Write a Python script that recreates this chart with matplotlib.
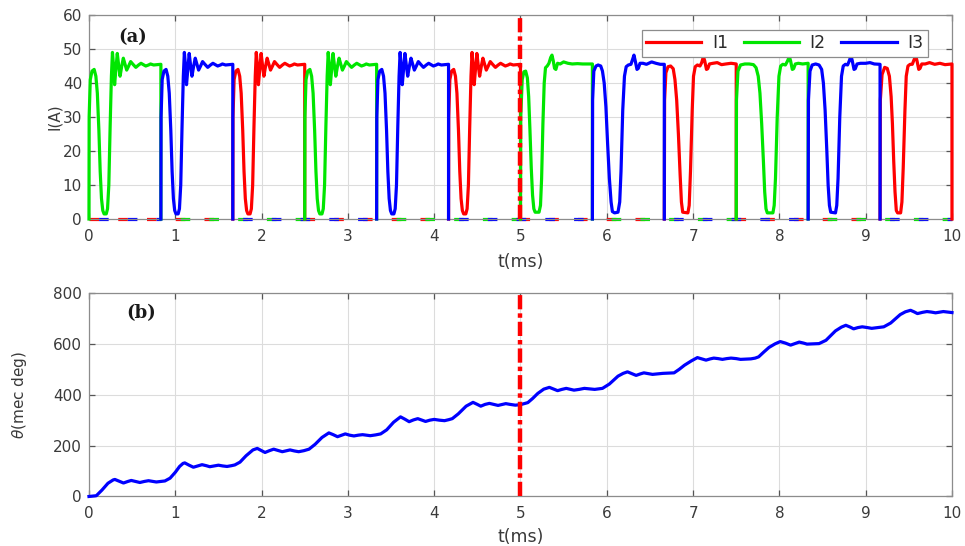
import numpy as np
import matplotlib
matplotlib.use("Agg")
import matplotlib.pyplot as plt

# ---------------------------------------------------------------------------
# Phase currents
# ---------------------------------------------------------------------------
# One conduction interval during 0-5 ms: time since turn-on (ms), current (A)
pulse_rel_t = [0.0, 0.002, 0.015, 0.035, 0.06, 0.08, 0.097, 0.115, 0.13, 0.145,
               0.16, 0.175, 0.2, 0.215, 0.23, 0.245, 0.26, 0.272, 0.285, 0.297,
               0.312, 0.328, 0.345, 0.36, 0.38, 0.398, 0.418, 0.437, 0.46, 0.483,
               0.51, 0.543, 0.575, 0.603, 0.63, 0.658, 0.69, 0.713, 0.75, 0.79,
               0.8333]
pulse_i = [0.0, 30.0, 41.0, 43.5, 44.0, 42.0, 37.0, 26.0, 14.0, 6.0,
           2.5, 1.5, 1.5, 3.0, 10.0, 27.0, 42.0, 49.0, 45.0, 39.5,
           44.0, 48.7, 45.0, 42.0, 45.0, 47.3, 45.5, 43.8, 45.0, 46.3,
           45.5, 44.6, 45.3, 45.8, 45.4, 45.0, 45.3, 45.6, 45.3, 45.4,
           45.5]

# Turn-on instants (ms) of each phase during 0-5 ms
starts_i1 = [1.6667, 4.1667]
starts_i2 = [0.0, 2.5]
starts_i3 = [0.8333, 3.3333]

# Conduction intervals during 5-10 ms
i2_p1_t = [5.0, 5.003, 5.02, 5.04, 5.06, 5.08, 5.095, 5.11, 5.125, 5.14, 5.155,
           5.17, 5.215, 5.232, 5.245, 5.26, 5.275, 5.29, 5.31, 5.33, 5.35, 5.365,
           5.38, 5.395, 5.41, 5.43, 5.46, 5.5, 5.55, 5.6, 5.66, 5.72, 5.78, 5.8333]
i2_p1_i = [0.0, 30.0, 41.0, 43.3, 43.5, 41.5, 36.0, 26.0, 15.0, 7.0, 3.0,
           2.0, 2.0, 4.0, 12.0, 28.0, 40.0, 44.5, 45.0, 45.8, 47.5, 48.2,
           46.5, 44.3, 44.0, 45.8, 45.6, 46.2, 45.8, 45.6, 45.7, 45.6, 45.6, 45.6]

i3_p1_t = [5.8334, 5.836, 5.85, 5.875, 5.9, 5.93, 5.95, 5.97, 5.99, 6.01, 6.03,
           6.05, 6.065, 6.09, 6.13, 6.15, 6.165, 6.185, 6.205, 6.225, 6.25, 6.28,
           6.3, 6.315, 6.33, 6.35, 6.365, 6.385, 6.42, 6.46, 6.52, 6.57, 6.62, 6.6667]
i3_p1_i = [0.0, 35.0, 43.5, 45.0, 45.3, 45.0, 43.5, 40.0, 33.0, 22.0, 12.0,
           5.0, 2.2, 1.8, 2.0, 5.0, 14.0, 32.0, 42.0, 44.8, 45.3, 45.5,
           47.0, 48.2, 46.5, 44.0, 44.3, 45.8, 45.8, 45.5, 46.2, 45.8, 45.5, 45.5]

i1_p1_t = [6.6667, 6.67, 6.685, 6.71, 6.74, 6.77, 6.79, 6.81, 6.83, 6.85, 6.865,
           6.88, 6.94, 6.955, 6.97, 6.99, 7.005, 7.025, 7.05, 7.08, 7.1, 7.12,
           7.135, 7.155, 7.17, 7.19, 7.23, 7.28, 7.33, 7.38, 7.44, 7.5]
i1_p1_i = [0.0, 35.0, 43.0, 44.8, 45.0, 44.2, 41.0, 35.0, 25.0, 13.0, 5.0,
           2.0, 1.8, 4.0, 14.0, 32.0, 42.0, 44.8, 45.3, 45.0, 46.0, 47.8,
           46.5, 44.0, 44.2, 45.6, 45.8, 46.0, 45.4, 45.6, 45.8, 45.6]

i2_p2_t = [7.5001, 7.503, 7.52, 7.55, 7.6, 7.65, 7.7, 7.73, 7.755, 7.775, 7.795,
           7.815, 7.83, 7.845, 7.86, 7.925, 7.94, 7.955, 7.975, 7.995, 8.015, 8.04,
           8.07, 8.095, 8.115, 8.13, 8.15, 8.165, 8.185, 8.22, 8.27, 8.3333]
i2_p2_i = [0.0, 35.0, 43.5, 45.3, 45.6, 45.6, 45.4, 44.5, 42.0, 37.0, 28.0,
           17.0, 8.0, 3.0, 1.8, 1.8, 4.0, 12.0, 30.0, 42.0, 45.0, 45.5,
           45.3, 46.5, 47.8, 46.5, 44.0, 44.2, 45.6, 45.8, 45.6, 45.8]

i3_p2_t = [8.3334, 8.337, 8.355, 8.38, 8.42, 8.46, 8.49, 8.51, 8.53, 8.55, 8.565,
           8.58, 8.595, 8.65, 8.665, 8.68, 8.7, 8.72, 8.74, 8.765, 8.79, 8.81,
           8.83, 8.845, 8.865, 8.88, 8.9, 8.94, 9.0, 9.05, 9.1, 9.1667]
i3_p2_i = [0.0, 35.0, 43.5, 45.3, 45.6, 45.3, 44.0, 40.0, 32.0, 20.0, 10.0,
           4.0, 2.0, 1.8, 4.0, 12.0, 30.0, 42.0, 45.0, 45.5, 45.3, 46.5,
           48.0, 46.5, 44.0, 44.2, 45.6, 45.8, 45.8, 46.0, 45.6, 45.5]

i1_p2_t = [9.1668, 9.17, 9.19, 9.22, 9.25, 9.275, 9.295, 9.31, 9.325, 9.34, 9.355,
           9.37, 9.405, 9.42, 9.435, 9.455, 9.47, 9.49, 9.515, 9.54, 9.56, 9.58,
           9.595, 9.615, 9.63, 9.65, 9.69, 9.74, 9.8, 9.86, 9.92, 10.0]
i1_p2_i = [0.0, 35.0, 42.5, 44.6, 44.3, 42.0, 36.0, 28.0, 17.0, 8.0, 2.5,
           1.8, 1.8, 5.0, 15.0, 32.0, 42.0, 45.0, 45.5, 45.5, 46.8, 48.0,
           46.5, 44.0, 44.3, 45.6, 45.6, 46.0, 45.5, 45.8, 45.4, 45.6]

# ---------------------------------------------------------------------------
# Rotor position
# ---------------------------------------------------------------------------
theta_t = [0.0, 0.085, 0.15, 0.22, 0.28, 0.30, 0.35, 0.40, 0.45, 0.49, 0.54, 0.59,
           0.64, 0.69, 0.74, 0.78, 0.83, 0.88, 0.94, 1.0, 1.05, 1.09, 1.11, 1.16,
           1.21, 1.26, 1.31, 1.36, 1.40, 1.45, 1.50, 1.55, 1.60, 1.65, 1.69, 1.75,
           1.82, 1.9, 1.95, 2.0, 2.04, 2.09, 2.14, 2.19, 2.24, 2.29, 2.33, 2.38,
           2.43, 2.49, 2.55, 2.62, 2.7, 2.78, 2.83, 2.88, 2.93, 2.97, 3.02, 3.07,
           3.12, 3.17, 3.22, 3.26, 3.32, 3.38, 3.45, 3.53, 3.61, 3.66, 3.71, 3.76,
           3.81, 3.86, 3.90, 3.95, 4.0, 4.06, 4.12, 4.17, 4.21, 4.28, 4.37, 4.45,
           4.50, 4.54, 4.59, 4.64, 4.69, 4.74, 4.79, 4.83, 4.88, 4.94, 5.0, 5.085,
           5.14, 5.2, 5.27, 5.335, 5.38, 5.43, 5.48, 5.53, 5.58, 5.62, 5.68, 5.74,
           5.8, 5.86, 5.91, 5.95, 6.03, 6.13, 6.19, 6.24, 6.29, 6.34, 6.39, 6.43,
           6.48, 6.53, 6.59, 6.65, 6.72, 6.78, 6.84, 6.90, 6.98, 7.05, 7.1, 7.15,
           7.2, 7.24, 7.29, 7.34, 7.39, 7.44, 7.5, 7.55, 7.61, 7.67, 7.72, 7.76,
           7.82, 7.88, 7.95, 8.01, 8.07, 8.13, 8.18, 8.23, 8.28, 8.32, 8.39, 8.46,
           8.54, 8.65, 8.72, 8.77, 8.82, 8.86, 8.91, 8.96, 9.02, 9.07, 9.14, 9.21,
           9.29, 9.40, 9.46, 9.52, 9.56, 9.60, 9.66, 9.71, 9.76, 9.81, 9.86, 9.90,
           9.95, 10.0]
theta_deg = [0, 3, 25, 52, 65, 67, 60, 53, 59, 63, 59, 55,
             59, 62, 59, 57, 59, 61, 72, 95, 118, 130, 132, 123,
             115, 120, 125, 121, 117, 120, 123, 120, 118, 121, 124, 135,
             160, 183, 189, 180, 173, 180, 186, 181, 176, 180, 183, 179,
             176, 180, 186, 205, 232, 250, 243, 235, 241, 246, 241, 238,
             241, 243, 241, 239, 242, 246, 262, 292, 313, 304, 294, 301,
             306, 300, 295, 300, 303, 300, 298, 302, 306, 325, 355, 370,
             362, 355, 362, 366, 362, 358, 362, 365, 362, 359, 361, 369,
             385, 405, 422, 429, 423, 416, 421, 425, 421, 418, 421, 425,
             423, 421, 423, 425, 442, 473, 484, 490, 483, 476, 482, 486,
             483, 480, 482, 484, 485, 486, 500, 516, 533, 546, 541, 536,
             541, 544, 542, 539, 542, 544, 542, 539, 540, 541, 544, 549,
             568, 586, 600, 609, 603, 595, 601, 607, 603, 599, 600, 601,
             614, 651, 666, 673, 666, 659, 664, 667, 664, 661, 664, 667,
             682, 715, 726, 732, 726, 719, 724, 727, 725, 722, 725, 727,
             725, 723]

step_time = 5.0
t_end = 10.0

# ---------------------------------------------------------------------------
series = [
    ("I1", "#ff0000", starts_i1, [(i1_p1_t, i1_p1_i), (i1_p2_t, i1_p2_i)]),
    ("I2", "#00e600", starts_i2, [(i2_p1_t, i2_p1_i), (i2_p2_t, i2_p2_i)]),
    ("I3", "#0000ff", starts_i3, [(i3_p1_t, i3_p1_i), (i3_p2_t, i3_p2_i)]),
]

plt.rcParams["font.family"] = ["DejaVu Sans"]
plt.rcParams["mathtext.fontset"] = "dejavusans"

fig = plt.figure(figsize=(9.65, 5.46), dpi=100)
ax1 = fig.add_axes([0.0922, 0.5989, 0.8943, 0.3736])
ax2 = fig.add_axes([0.0922, 0.0907, 0.8943, 0.3727])

frame_col = "#8c8c8c"
label_col = "#3a3a3a"
grid_col = "#dcdcdc"
lw_cur = 2.3

handles = []
for k, (name, col, starts, late) in enumerate(series):
    pulses = [(np.array(pulse_rel_t) + s, np.array(pulse_i)) for s in starts]
    pulses += [(np.array(t), np.array(i)) for t, i in late]
    pulses.sort(key=lambda p: p[0][0])
    # conducting intervals, each closed by a vertical fall to zero
    for t, i in pulses:
        tt = np.append(t, t[-1])
        ii = np.append(i, 0.0)
        h, = ax1.plot(tt, ii, color=col, lw=lw_cur, clip_on=False, zorder=3 + k,
                      solid_joinstyle="round")
    handles.append(h)
    # idle intervals at zero current
    edges = [0.0]
    for t, _ in pulses:
        edges += [t[0], t[-1]]
    edges.append(t_end)
    for a, b in zip(edges[0::2], edges[1::2]):
        if b - a > 1e-6:
            ax1.plot([a, b], [0, 0], color=col, lw=lw_cur, clip_on=False,
                     zorder=2, linestyle=(k * 3.0, (3.0, 6.0)))

ax2.plot(theta_t, theta_deg, color="#0000ff", lw=2.3, clip_on=False, zorder=3)

for ax in (ax1, ax2):
    ax.axvline(step_time, color="#ff0000", lw=3.2, zorder=8,
               linestyle=(0, (3.2, 0.9, 1.0, 0.9)))
    ax.set_xlim(0, 10)
    ax.set_xticks(range(0, 11))
    ax.grid(True, color=grid_col, lw=0.8)
    ax.set_axisbelow(True)
    for sp in ax.spines.values():
        sp.set_color(frame_col)
        sp.set_linewidth(0.9)
    ax.tick_params(direction="in", length=4, width=0.9, color="#555555",
                   top=True, right=True, labelsize=11, labelcolor=label_col)
    ax.tick_params(axis="x", pad=7)
    ax.tick_params(axis="y", pad=5)
    ax.set_xlabel("t(ms)", fontsize=12.5, color=label_col)

ax1.set_ylim(0, 60)
ax1.set_yticks(range(0, 61, 10))
ax1.set_ylabel("I(A)", fontsize=11, color=label_col)
ax1.xaxis.set_label_coords(0.5, -0.211, transform=ax1.transAxes)
ax1.yaxis.set_label_coords(-0.040, 0.5, transform=ax1.transAxes)
ax1.xaxis.label.set_va("center")
ax1.yaxis.label.set_va("center")

ax2.set_ylim(0, 800)
ax2.set_yticks(range(0, 801, 200))
ax2.set_ylabel(r"$\theta$(mec deg)", fontsize=11, color=label_col)
ax2.xaxis.set_label_coords(0.5, -0.199, transform=ax2.transAxes)
ax2.yaxis.set_label_coords(-0.080, 0.5, transform=ax2.transAxes)
ax2.xaxis.label.set_va("center")
ax2.yaxis.label.set_va("center")

ax1.text(0.0504, 0.892, "(a)", transform=ax1.transAxes, family="DejaVu Serif",
         fontweight="bold", fontsize=13, ha="center", va="center", color="#1a1a1a")
ax2.text(0.0608, 0.899, "(b)", transform=ax2.transAxes, family="DejaVu Serif",
         fontweight="bold", fontsize=13, ha="center", va="center", color="#1a1a1a")

leg = ax1.legend(handles, [s[0] for s in series], loc="upper right",
                 bbox_to_anchor=(0.972, 0.926), borderaxespad=0, ncol=3,
                 handlelength=3.2, handletextpad=0.6, columnspacing=0.9,
                 fontsize=12.5, frameon=True, fancybox=False, framealpha=1,
                 borderpad=0.25)
leg.get_frame().set_edgecolor("#8c8c8c")
leg.get_frame().set_linewidth(0.9)
leg.set_zorder(10)
for txt in leg.get_texts():
    txt.set_color("#2a2a2a")

fig.savefig("out.png", dpi=100)
